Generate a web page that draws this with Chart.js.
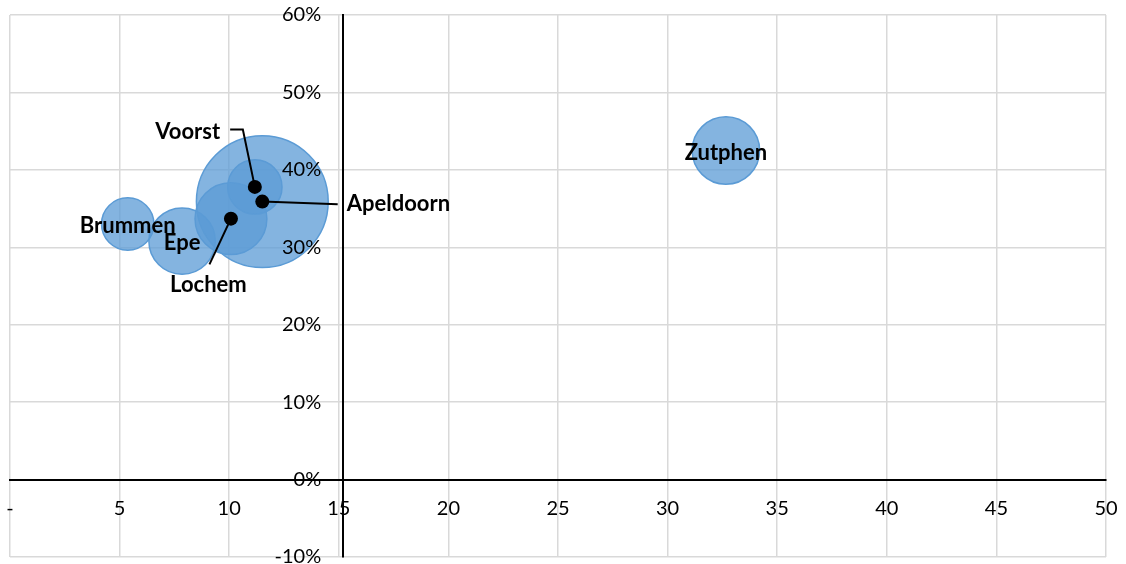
<!DOCTYPE html>
<html>
<head>
<meta charset="utf-8">
<script src="https://cdn.jsdelivr.net/npm/chart.js@4/dist/chart.umd.min.js"></script>
<style>
    html, body { margin: 0; padding: 0; background: #fff; }
    #wrap { width: 1126px; height: 564px; }
</style>
</head>
<body>
<div id="wrap"><canvas id="bubbleChart" width="1126" height="564"></canvas></div>
<script>
// Municipalities and their values
const towns = ['Brummen', 'Epe', 'Lochem', 'Voorst', 'Apeldoorn', 'Zutphen'];
const xValues = [5.37, 7.85, 10.08, 11.17, 11.51, 32.66];
const shares = [0.330, 0.308, 0.337, 0.378, 0.359, 0.425];
const bubbleSizes = [15.8, 25.4, 29.7, 17.0, 100, 26.2];

// Axis ticks
const xTicks = [0, 5, 10, 15, 20, 25, 30, 35, 40, 45, 50];
const yTicks = [-0.1, 0, 0.1, 0.2, 0.3, 0.4, 0.5, 0.6];

// Towns whose label sits outside the bubble, with a leader line to a dot
const calloutTowns = ['Voorst', 'Apeldoorn', 'Lochem'];

const MAX_RADIUS = 65.9;
const BLUE = '#5B9BD5';
const GRID = '#d9d9d9';
const FONT = 'Lato, "Open Sans", sans-serif';
const Y_LABEL_GAP = 22;

// Label placement for the callouts, in pixels relative to the dot
const callouts = {
    Voorst: { path: [[-24.7, -57.4], [-12, -57.4], [0, 0]], text: [-34.7, -54.7], align: 'right' },
    Apeldoorn: { path: [[75.4, 2.6], [0, 0]], text: [84.4, 2.3], align: 'left' },
    Lochem: { path: [[-21.5, 45.7], [0, 0]], text: [-22.5, 66.7], align: 'center' }
};

const maxSize = Math.max(...bubbleSizes);
const bubbleData = towns.map((name, i) => ({
    x: xValues[i],
    y: shares[i],
    r: MAX_RADIUS * Math.sqrt(bubbleSizes[i] / maxSize),
    name: name
}));

const dotData = towns
    .map((name, i) => ({ x: xValues[i], y: shares[i], name: name }))
    .filter(p => calloutTowns.includes(p.name));

function formatPercent(value) {
    return Math.round(value * 100) + '%';
}

// Draws town names, centred in the bubble or via a leader line
const townLabels = {
    id: 'townLabels',
    afterDatasetsDraw(chart) {
        const ctx = chart.ctx;
        const meta = chart.getDatasetMeta(1);
        ctx.save();
        ctx.font = 'bold 22px ' + FONT;
        ctx.fillStyle = '#000';
        ctx.strokeStyle = '#000';
        ctx.lineWidth = 2;
        ctx.textBaseline = 'middle';

        meta.data.forEach((el, i) => {
            const name = bubbleData[i].name;
            const c = callouts[name];
            if (!c) {
                ctx.textAlign = 'center';
                ctx.fillText(name, el.x, el.y + 2);
                return;
            }
            ctx.beginPath();
            c.path.forEach(([dx, dy], k) => {
                if (k === 0) ctx.moveTo(el.x + dx, el.y + dy);
                else ctx.lineTo(el.x + dx, el.y + dy);
            });
            ctx.stroke();
            ctx.textAlign = c.align;
            ctx.fillText(name, el.x + c.text[0], el.y + c.text[1]);
        });
        ctx.restore();
    }
};

// A y axis placed at a value ignores ticks.padding, so push its labels left
const yLabelGap = {
    id: 'yLabelGap',
    beforeDraw(chart) {
        const items = chart.scales.y.getLabelItems();
        if (items._shifted) return;
        items.forEach(item => { item.options.translation[0] -= Y_LABEL_GAP; });
        items._shifted = true;
    }
};

// Drop the edge padding the scales reserve for their labels
function noPadding(scale) {
    scale.paddingTop = 0;
    scale.paddingBottom = 0;
    scale.paddingLeft = 0;
    scale.paddingRight = 0;
}

const ctx = document.getElementById('bubbleChart').getContext('2d');

new Chart(ctx, {
    type: 'bubble',
    data: {
        datasets: [
            {
                label: 'dots',
                data: dotData,
                backgroundColor: '#000',
                borderColor: '#000',
                borderWidth: 0,
                radius: 7
            },
            {
                label: 'towns',
                data: bubbleData,
                backgroundColor: 'rgba(91, 155, 213, 0.75)',
                borderColor: BLUE,
                borderWidth: 1.5
            }
        ]
    },
    options: {
        responsive: false,
        animation: false,
        events: [],
        layout: {
            autoPadding: false,
            padding: { left: 10, top: 15, right: 20, bottom: 7 }
        },
        plugins: {
            legend: { display: false },
            tooltip: { enabled: false }
        },
        scales: {
            x: {
                type: 'linear',
                min: 0,
                max: 50,
                position: { y: 0 },
                afterFit: noPadding,
                afterBuildTicks: (scale) => {
                    scale.ticks = xTicks.map(v => ({ value: v }));
                },
                grid: { color: GRID, lineWidth: 1.5, drawTicks: false },
                border: { color: '#000', width: 2 },
                ticks: {
                    padding: 17,
                    maxRotation: 0,
                    autoSkip: false,
                    color: '#000',
                    font: { family: FONT, size: 20 },
                    callback: (v) => (v === 0 ? '-' : v)
                }
            },
            y: {
                type: 'linear',
                min: -0.1,
                max: 0.6,
                position: { x: 15.2 },
                afterFit: noPadding,
                afterBuildTicks: (scale) => {
                    scale.ticks = yTicks.map(v => ({ value: v }));
                },
                grid: { color: GRID, lineWidth: 1.5, drawTicks: false },
                border: { color: '#000', width: 2 },
                ticks: {
                    z: 1,
                    autoSkip: false,
                    color: '#000',
                    font: { family: FONT, size: 20 },
                    callback: (v) => formatPercent(v)
                }
            }
        }
    },
    plugins: [yLabelGap, townLabels]
});
</script>
</body>
</html>
